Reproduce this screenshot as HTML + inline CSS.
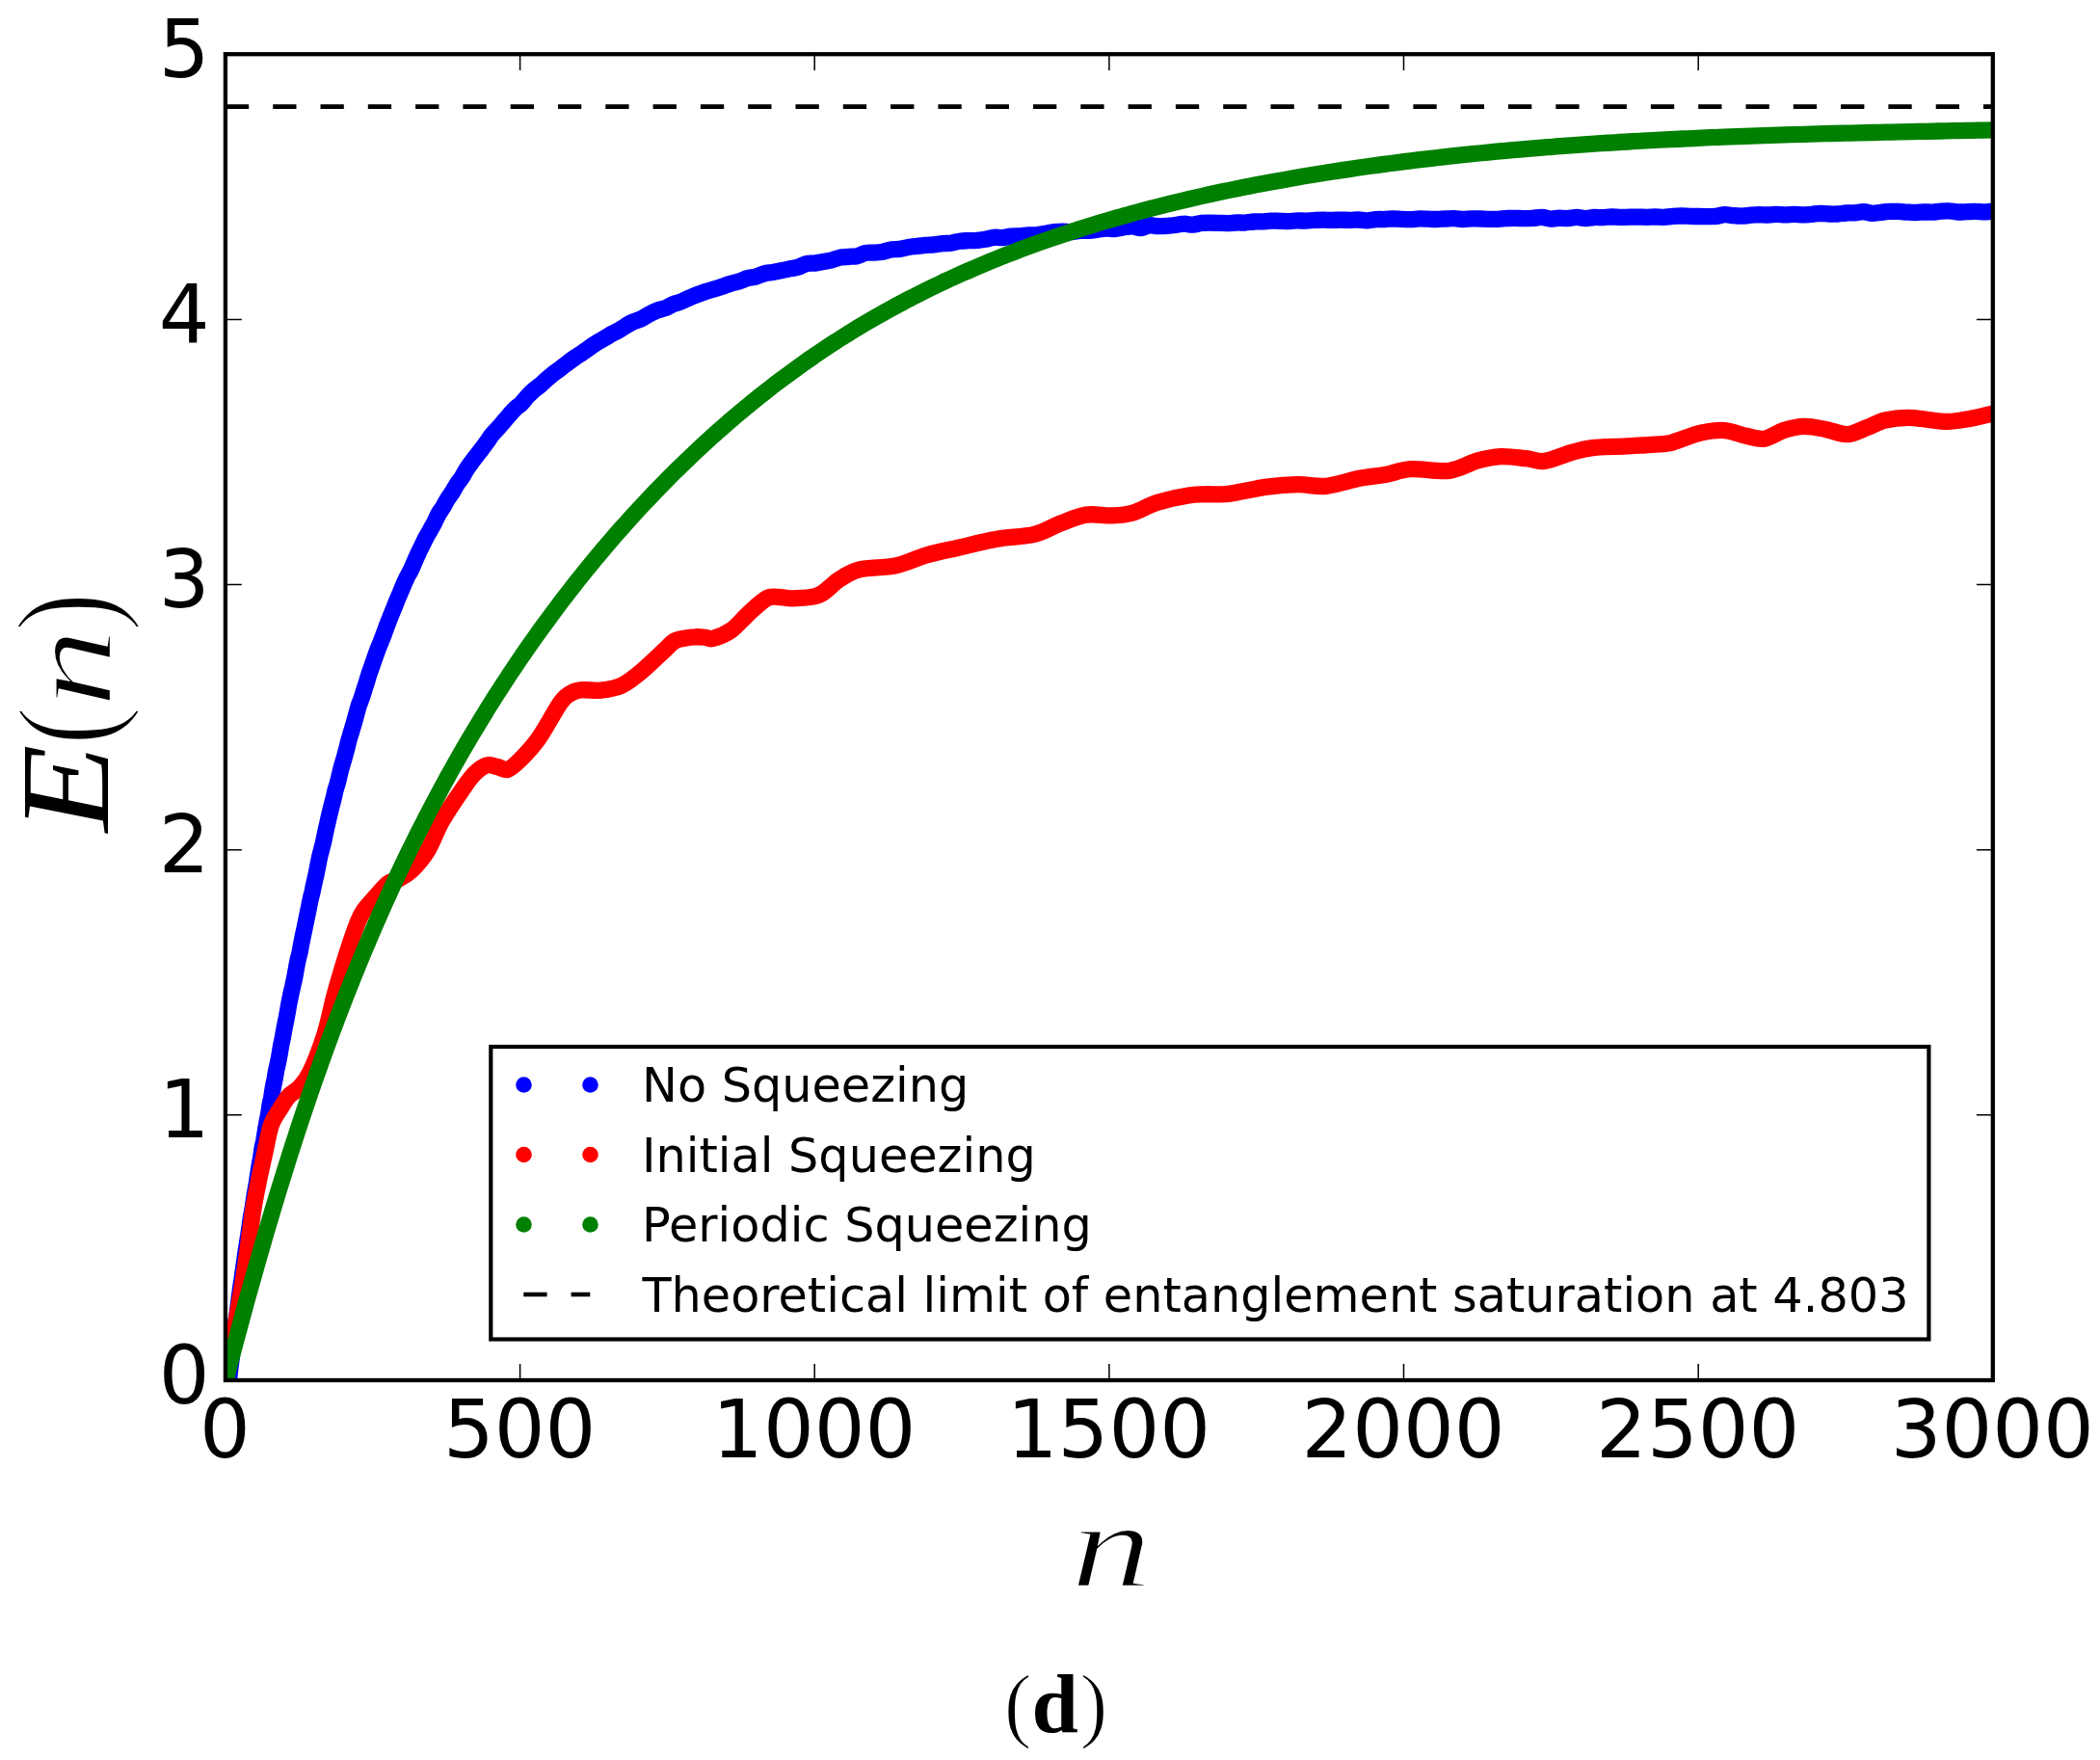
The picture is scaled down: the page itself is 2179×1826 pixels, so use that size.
<!DOCTYPE html>
<html lang="en"><head><meta charset="utf-8"><title>Entanglement E(n) vs n</title>
<style>html,body{margin:0;padding:0;background:#fff}svg{display:block}.t{font-family:"DejaVu Sans","Liberation Sans",sans-serif;fill:#000}.m{font-family:"Liberation Serif","DejaVu Serif",serif;fill:#000}</style></head><body>
<svg width="2179" height="1826" viewBox="0 0 2179 1826">
<rect width="2179" height="1826" fill="#fff"/>
<defs><clipPath id="ax"><rect x="233.9" y="56.2" width="1833.9" height="1375.8"/></clipPath></defs>
<g clip-path="url(#ax)" fill="none" stroke-width="17.3" stroke-linecap="round" stroke-linejoin="round">
<path stroke="#0000ff" d="M234.0 1431.9C234.6 1431.9 236.9 1431.9 237.5 1431.9C238.1 1431.9 237.3 1433.4 237.5 1431.9C237.7 1430.4 238.2 1425.8 238.5 1422.8C238.9 1419.9 239.2 1417.1 239.6 1414.3C239.9 1411.4 240.3 1408.7 240.6 1405.6C241.0 1402.6 241.4 1399.1 241.7 1396.1C242.1 1393.2 242.5 1390.6 242.8 1387.7C243.2 1384.9 243.6 1382.0 244.0 1378.9C244.3 1375.8 244.7 1371.9 245.1 1369.1C245.5 1366.2 245.9 1364.5 246.3 1361.7C246.7 1359.0 247.1 1355.7 247.5 1352.6C247.9 1349.5 248.3 1346.1 248.7 1343.1C249.1 1340.0 249.5 1337.3 249.9 1334.4C250.3 1331.6 250.8 1328.9 251.2 1325.9C251.6 1322.9 252.0 1319.6 252.5 1316.6C252.9 1313.6 253.3 1310.8 253.8 1307.7C254.2 1304.6 254.6 1301.0 255.1 1298.1C255.5 1295.2 256.0 1293.2 256.4 1290.3C256.8 1287.5 257.3 1284.2 257.8 1281.2C258.2 1278.2 258.7 1275.5 259.1 1272.3C259.6 1269.2 260.0 1265.3 260.5 1262.4C261.0 1259.6 261.4 1258.1 261.9 1255.3C262.4 1252.4 262.9 1248.7 263.3 1245.5C263.8 1242.4 264.3 1239.1 264.8 1236.3C265.3 1233.5 265.7 1231.6 266.2 1228.7C266.7 1225.8 267.2 1221.9 267.7 1218.6C268.2 1215.3 268.7 1211.9 269.2 1208.9C269.7 1205.9 270.2 1203.6 270.7 1200.6C271.2 1197.5 271.7 1193.4 272.2 1190.6C272.7 1187.8 273.2 1186.3 273.8 1183.5C274.3 1180.7 274.8 1176.9 275.3 1173.8C275.8 1170.6 276.4 1167.5 276.9 1164.7C277.4 1161.8 277.9 1159.8 278.5 1156.7C279.0 1153.7 279.5 1149.3 280.1 1146.3C280.6 1143.3 281.1 1141.6 281.7 1138.6C282.2 1135.5 282.8 1131.3 283.3 1128.2C283.9 1125.1 284.4 1122.9 285.0 1120.0C285.5 1117.1 286.1 1113.6 286.6 1110.8C287.2 1108.0 287.7 1106.1 288.3 1103.4C288.8 1100.7 289.4 1097.7 290.0 1094.6C290.5 1091.5 291.1 1087.6 291.7 1084.5C292.2 1081.5 292.8 1079.2 293.4 1076.3C293.9 1073.3 294.5 1069.8 295.1 1066.8C295.7 1063.8 296.2 1061.3 296.8 1058.3C297.4 1055.3 298.0 1051.8 298.6 1048.7C299.1 1045.5 299.7 1042.3 300.3 1039.2C300.9 1036.2 301.5 1033.1 302.1 1030.3C302.7 1027.5 303.3 1025.2 303.9 1022.6C304.4 1020.0 305.0 1017.7 305.6 1014.7C306.2 1011.8 306.8 1008.0 307.4 1004.8C308.0 1001.6 308.6 998.3 309.2 995.5C309.9 992.7 310.5 990.8 311.1 987.9C311.7 985.0 312.3 981.3 312.9 978.1C313.5 975.0 314.1 972.2 314.7 969.2C315.3 966.3 316.0 963.4 316.6 960.4C317.2 957.5 317.8 954.4 318.4 951.4C319.1 948.4 319.7 945.5 320.3 942.5C320.9 939.4 321.5 935.9 322.2 933.0C322.8 930.1 323.4 928.1 324.1 925.3C324.7 922.4 325.3 919.0 326.0 916.1C326.6 913.2 327.2 911.0 327.9 908.0C328.5 905.1 329.2 901.6 329.8 898.4C330.4 895.2 331.1 891.6 331.7 888.7C332.4 885.8 333.1 883.6 333.7 881.0C334.4 878.4 335.0 876.1 335.7 873.2C336.4 870.2 337.0 866.4 337.7 863.3C338.4 860.1 339.1 857.2 339.8 854.3C340.4 851.3 341.1 848.3 341.8 845.4C342.5 842.4 343.2 839.5 343.9 836.7C344.6 833.9 345.3 831.3 346.1 828.4C346.8 825.5 347.5 822.0 348.2 819.2C349.0 816.5 349.7 814.8 350.4 812.0C351.2 809.2 351.9 805.4 352.7 802.4C353.4 799.3 354.2 796.6 354.9 793.9C355.7 791.2 356.5 788.7 357.3 786.0C358.0 783.2 358.8 780.4 359.6 777.4C360.4 774.4 361.2 770.8 362.0 767.8C362.8 764.8 363.7 762.3 364.5 759.5C365.3 756.7 366.1 754.0 367.0 751.1C367.8 748.2 368.7 745.1 369.5 742.0C370.4 738.9 371.3 735.4 372.1 732.6C373.0 729.8 373.9 728.0 374.8 725.4C375.7 722.8 376.6 719.8 377.5 717.0C378.4 714.1 379.3 711.2 380.3 708.2C381.2 705.2 382.2 701.8 383.1 698.9C384.1 696.0 385.0 693.6 386.0 690.8C387.0 688.0 388.0 685.0 389.0 682.1C390.0 679.3 391.0 676.5 392.0 673.8C393.0 671.2 394.0 668.9 395.1 666.3C396.1 663.6 397.2 660.8 398.3 658.0C399.3 655.1 400.4 652.0 401.5 649.1C402.6 646.2 403.7 643.4 404.8 640.6C405.9 637.9 407.0 635.2 408.2 632.3C409.3 629.5 410.5 626.5 411.6 623.6C412.8 620.8 414.0 618.1 415.2 615.2C416.4 612.4 417.6 609.4 418.8 606.6C420.0 603.8 421.3 601.1 422.5 598.6C423.7 596.1 425.0 594.3 426.3 591.6C427.6 589.0 428.9 585.6 430.2 582.6C431.5 579.7 432.8 576.6 434.1 573.8C435.5 570.9 436.8 568.3 438.2 565.5C439.5 562.8 440.9 559.8 442.3 557.2C443.7 554.6 445.1 552.4 446.5 549.8C448.0 547.2 449.4 544.6 450.9 541.8C452.3 539.0 453.8 535.5 455.3 532.8C456.8 530.2 458.3 528.6 459.8 526.0C461.4 523.5 462.9 520.1 464.5 517.6C466.0 515.1 467.6 513.5 469.2 510.9C470.8 508.4 472.4 505.1 474.0 502.6C475.6 500.1 477.3 498.4 479.0 495.8C480.6 493.3 482.3 489.8 484.0 487.1C485.7 484.5 487.4 482.2 489.2 479.8C490.9 477.4 492.7 475.1 494.4 472.8C496.2 470.5 498.0 468.3 499.8 466.0C501.6 463.6 503.4 461.1 505.3 458.6C507.1 456.0 509.0 452.9 510.9 450.6C512.8 448.2 514.7 446.6 516.6 444.4C518.6 442.3 520.5 439.9 522.5 437.6C524.5 435.3 526.4 432.9 528.4 430.7C530.5 428.4 532.5 425.9 534.5 424.0C536.6 422.0 538.7 421.0 540.8 418.9C542.9 416.8 545.0 413.8 547.1 411.4C549.2 409.1 551.4 407.0 553.6 405.1C555.8 403.1 558.0 401.8 560.2 399.9C562.4 398.0 564.6 395.7 566.9 393.8C569.2 391.8 571.5 389.8 573.8 388.0C576.1 386.1 578.4 384.7 580.8 382.9C583.1 381.1 585.5 379.1 587.9 377.3C590.3 375.5 592.7 373.7 595.2 372.0C597.6 370.3 600.0 368.9 602.5 367.2C605.0 365.6 607.5 363.7 610.0 361.9C612.5 360.1 615.0 358.2 617.6 356.6C620.1 355.0 622.7 353.6 625.2 352.1C627.8 350.5 630.4 348.9 633.0 347.4C635.6 346.0 638.2 344.9 640.9 343.4C643.5 342.0 646.2 340.1 648.8 338.5C651.5 336.9 654.2 335.2 656.9 333.9C659.6 332.7 662.3 332.2 665.0 331.0C667.7 329.7 670.5 327.8 673.2 326.3C675.9 324.8 678.7 323.3 681.5 322.2C684.2 321.1 687.0 320.9 689.8 319.8C692.6 318.8 695.4 316.9 698.2 315.7C701.0 314.6 703.8 314.1 706.6 313.0C709.4 311.9 712.3 310.4 715.1 309.1C717.9 307.9 720.8 306.7 723.6 305.6C726.5 304.5 729.3 303.5 732.2 302.5C735.1 301.6 737.9 300.9 740.8 300.0C743.7 299.1 746.6 298.2 749.5 297.3C752.3 296.3 755.2 295.1 758.1 294.2C761.0 293.3 763.9 292.8 766.8 291.9C769.7 291.0 772.6 289.5 775.5 288.7C778.4 287.9 781.3 287.9 784.2 287.1C787.2 286.3 790.1 284.6 793.0 283.8C795.9 283.0 798.8 282.9 801.7 282.4C804.6 281.9 807.5 281.4 810.5 280.8C813.4 280.2 816.3 279.5 819.2 278.9C822.1 278.3 825.0 278.2 828.0 277.3C830.9 276.4 833.8 274.3 836.7 273.6C839.7 272.9 842.6 273.4 845.5 273.1C848.4 272.7 851.4 272.1 854.3 271.6C857.2 271.0 860.2 270.5 863.1 269.8C866.0 269.0 869.0 267.7 871.9 267.1C874.8 266.6 877.8 266.6 880.7 266.3C883.6 266.1 886.6 266.3 889.5 265.7C892.4 265.0 895.4 263.0 898.3 262.4C901.3 261.8 904.2 262.3 907.1 262.1C910.1 261.9 913.0 261.7 916.0 261.2C918.9 260.6 921.9 259.4 924.8 258.9C927.8 258.5 930.7 258.9 933.7 258.4C936.6 258.0 939.6 256.9 942.5 256.4C945.5 255.9 948.4 255.7 951.4 255.4C954.3 255.0 957.3 254.6 960.2 254.3C963.2 254.0 966.2 254.1 969.1 253.8C972.1 253.5 975.0 252.9 978.0 252.6C980.9 252.4 983.9 252.6 986.9 252.2C989.8 251.8 992.8 250.6 995.8 250.2C998.7 249.8 1001.7 249.8 1004.7 249.7C1007.6 249.6 1010.6 249.6 1013.6 249.4C1016.5 249.1 1019.5 248.8 1022.5 248.3C1025.4 247.8 1028.4 246.6 1031.4 246.3C1034.3 246.1 1037.3 246.8 1040.3 246.6C1043.3 246.4 1046.2 245.4 1049.2 245.1C1052.2 244.8 1055.2 245.0 1058.1 244.8C1061.1 244.6 1064.1 244.1 1067.1 243.9C1070.1 243.8 1073.0 243.9 1076.0 243.7C1079.0 243.4 1082.0 242.9 1085.0 242.3C1087.9 241.8 1090.9 240.9 1093.9 240.5C1096.9 240.1 1099.9 240.1 1102.9 240.1C1105.8 240.1 1108.8 240.7 1111.8 240.5C1114.8 240.4 1117.8 239.5 1120.8 239.3C1123.8 239.1 1126.7 239.6 1129.7 239.4C1132.7 239.3 1135.7 238.7 1138.7 238.3C1141.7 238.0 1144.7 237.3 1147.7 237.2C1150.7 237.0 1153.7 237.8 1156.7 237.6C1159.7 237.4 1162.6 236.5 1165.6 236.0C1168.6 235.5 1171.6 234.7 1174.6 234.8C1177.6 234.8 1180.6 236.6 1183.6 236.5C1186.6 236.3 1189.6 234.1 1192.6 233.8C1195.6 233.5 1198.6 234.6 1201.6 234.7C1204.6 234.8 1207.6 234.6 1210.6 234.4C1213.6 234.2 1216.6 233.9 1219.6 233.5C1222.6 233.1 1225.6 232.1 1228.6 232.1C1231.6 232.0 1234.6 233.3 1237.6 233.2C1240.6 233.0 1243.6 231.8 1246.7 231.4C1249.7 231.1 1252.7 231.1 1255.7 231.1C1258.7 231.1 1261.7 231.2 1264.7 231.3C1267.7 231.4 1270.7 231.6 1273.7 231.6C1276.7 231.5 1279.7 231.1 1282.7 231.0C1285.7 230.9 1288.8 231.1 1291.8 231.0C1294.8 230.8 1297.8 230.2 1300.8 230.0C1303.8 229.8 1306.8 230.0 1309.8 229.9C1312.8 229.7 1315.9 229.2 1318.9 229.1C1321.9 229.0 1324.9 229.2 1327.9 229.3C1330.9 229.4 1333.9 229.6 1337.0 229.6C1340.0 229.5 1343.0 229.0 1346.0 228.9C1349.0 228.8 1352.0 229.2 1355.0 229.1C1358.1 229.0 1361.1 228.5 1364.1 228.4C1367.1 228.2 1370.1 228.2 1373.1 228.2C1376.2 228.2 1379.2 228.4 1382.2 228.4C1385.2 228.4 1388.2 228.1 1391.2 228.1C1394.3 228.1 1397.3 228.4 1400.3 228.4C1403.3 228.4 1406.3 228.0 1409.3 228.0C1412.4 228.1 1415.4 228.9 1418.4 228.8C1421.4 228.7 1424.4 227.8 1427.5 227.6C1430.5 227.4 1433.5 227.6 1436.5 227.5C1439.5 227.4 1442.6 227.0 1445.6 226.9C1448.6 226.9 1451.6 227.3 1454.6 227.4C1457.7 227.6 1460.7 227.8 1463.7 227.7C1466.7 227.6 1469.7 227.0 1472.8 226.9C1475.8 226.8 1478.8 227.1 1481.8 227.2C1484.8 227.3 1487.9 227.6 1490.9 227.5C1493.9 227.5 1496.9 227.1 1500.0 227.0C1503.0 226.9 1506.0 226.6 1509.0 226.7C1512.0 226.8 1515.1 227.4 1518.1 227.5C1521.1 227.5 1524.1 227.0 1527.2 226.9C1530.2 226.9 1533.2 227.0 1536.2 227.0C1539.2 227.1 1542.3 227.4 1545.3 227.4C1548.3 227.5 1551.3 227.5 1554.3 227.3C1557.4 227.2 1560.4 226.6 1563.4 226.5C1566.4 226.3 1569.5 226.3 1572.5 226.3C1575.5 226.3 1578.5 226.7 1581.5 226.7C1584.6 226.7 1587.6 226.6 1590.6 226.4C1593.6 226.2 1596.6 225.2 1599.7 225.3C1602.7 225.4 1605.7 226.9 1608.7 227.0C1611.7 227.2 1614.8 226.3 1617.8 226.2C1620.8 226.2 1623.8 226.7 1626.8 226.5C1629.9 226.4 1632.9 225.4 1635.9 225.4C1638.9 225.4 1641.9 226.6 1645.0 226.6C1648.0 226.7 1651.0 225.7 1654.0 225.5C1657.0 225.3 1660.1 225.8 1663.1 225.7C1666.1 225.5 1669.1 224.9 1672.1 224.8C1675.2 224.8 1678.2 225.3 1681.2 225.4C1684.2 225.5 1687.2 225.3 1690.2 225.2C1693.3 225.2 1696.3 225.1 1699.3 225.1C1702.3 225.1 1705.3 225.3 1708.3 225.3C1711.4 225.3 1714.4 225.0 1717.4 225.0C1720.4 225.0 1723.4 225.4 1726.4 225.3C1729.4 225.2 1732.5 224.6 1735.5 224.4C1738.5 224.2 1741.5 224.0 1744.5 223.9C1747.5 223.9 1750.5 224.2 1753.5 224.3C1756.6 224.4 1759.6 224.5 1762.6 224.5C1765.6 224.6 1768.6 224.7 1771.6 224.7C1774.6 224.7 1777.6 224.6 1780.6 224.3C1783.7 224.0 1786.7 222.8 1789.7 222.7C1792.7 222.6 1795.7 223.5 1798.7 223.7C1801.7 224.0 1804.7 224.2 1807.7 224.2C1810.7 224.1 1813.7 223.5 1816.7 223.2C1819.7 223.0 1822.7 222.8 1825.8 222.7C1828.8 222.7 1831.8 223.1 1834.8 223.0C1837.8 223.0 1840.8 222.4 1843.8 222.4C1846.8 222.4 1849.8 222.9 1852.8 222.8C1855.8 222.8 1858.8 222.3 1861.8 222.3C1864.8 222.3 1867.8 222.9 1870.8 222.9C1873.8 222.9 1876.8 222.5 1879.8 222.3C1882.8 222.0 1885.8 221.5 1888.8 221.4C1891.8 221.4 1894.8 221.9 1897.8 222.0C1900.8 222.1 1903.8 222.2 1906.7 222.0C1909.7 221.8 1912.7 221.2 1915.7 221.0C1918.7 220.8 1921.7 221.1 1924.7 220.9C1927.7 220.7 1930.7 219.7 1933.7 219.7C1936.7 219.8 1939.7 221.2 1942.6 221.3C1945.6 221.4 1948.6 220.7 1951.6 220.4C1954.6 220.0 1957.6 219.5 1960.6 219.4C1963.6 219.2 1966.5 219.3 1969.5 219.4C1972.5 219.5 1975.5 219.9 1978.5 220.1C1981.5 220.3 1984.4 220.6 1987.4 220.5C1990.4 220.5 1993.4 220.0 1996.4 219.9C1999.3 219.9 2002.3 220.2 2005.3 220.1C2008.3 220.0 2011.2 219.3 2014.2 219.1C2017.2 218.9 2020.2 218.7 2023.1 218.9C2026.1 219.0 2029.1 219.8 2032.1 220.0C2035.0 220.1 2038.0 219.8 2041.0 219.7C2044.0 219.5 2046.9 219.2 2049.9 219.3C2052.9 219.3 2055.8 219.9 2058.8 219.9C2061.8 219.9 2066.2 219.2 2067.7 219.1"/>
<path stroke="#ff0000" d="M234.0 1431.9C237.1 1414.5 247.6 1358.0 252.5 1327.7C257.4 1297.4 259.9 1272.1 263.6 1250.0C267.4 1227.9 272.0 1208.8 275.0 1195.0C278.0 1181.2 278.8 1174.4 281.5 1166.9C284.2 1159.4 288.0 1154.9 291.0 1150.0C294.0 1145.1 296.1 1141.1 299.4 1137.4C302.7 1133.7 307.2 1132.2 311.0 1128.0C314.8 1123.8 317.6 1121.3 322.0 1112.0C326.4 1102.7 332.9 1085.9 337.2 1072.3C341.5 1058.7 343.8 1044.2 347.7 1030.2C351.6 1016.2 356.4 1000.5 360.3 988.2C364.2 975.9 368.4 964.0 371.3 956.6C374.2 949.2 375.1 948.2 378.0 944.0C380.9 939.8 384.6 935.9 388.7 931.4C392.8 926.9 398.4 919.9 402.4 916.7C406.4 913.6 408.6 915.0 412.9 912.5C417.2 910.0 422.8 907.1 428.0 902.0C433.2 896.9 438.9 890.4 444.0 882.0C449.1 873.6 452.8 861.8 458.7 851.5C464.6 841.2 473.6 828.1 479.2 820.0C484.8 811.9 487.7 807.3 492.0 803.0C496.3 798.7 501.1 795.2 505.1 794.0C509.1 792.8 512.4 794.8 516.0 795.5C519.6 796.2 522.7 799.6 526.7 798.4C530.7 797.1 534.6 793.4 540.0 788.0C545.4 782.6 552.2 775.6 559.0 766.0C565.8 756.4 575.4 738.1 580.7 730.4C586.0 722.7 587.4 722.4 591.0 720.0C594.6 717.6 596.8 716.5 602.3 715.9C607.8 715.2 616.6 716.9 623.8 716.1C631.0 715.3 638.2 714.5 645.4 711.0C652.6 707.5 659.8 701.4 667.0 695.4C674.2 689.4 683.1 680.4 688.6 675.3C694.1 670.2 696.4 667.2 700.0 665.0C703.6 662.8 706.7 662.9 710.2 662.2C713.8 661.5 717.7 660.9 721.3 660.8C724.9 660.6 728.7 661.0 731.8 661.3C734.9 661.6 735.5 663.6 740.0 662.4C744.5 661.2 752.5 658.3 758.7 653.9C764.9 649.5 771.1 641.6 777.3 636.0C783.5 630.4 790.9 623.2 796.0 620.5C801.1 617.8 803.5 619.5 808.0 619.5C812.5 619.5 815.8 621.1 822.7 620.8C829.6 620.5 841.3 620.9 849.3 617.6C857.3 614.4 863.6 605.8 870.7 601.3C877.8 596.8 882.2 593.3 892.0 590.9C901.8 588.5 917.8 589.4 929.3 586.9C940.8 584.4 950.6 579.1 961.3 576.0C972.0 572.9 981.3 571.2 993.3 568.5C1005.3 565.8 1020.0 561.9 1033.3 559.5C1046.6 557.1 1062.2 557.1 1073.3 554.4C1084.4 551.7 1091.1 546.6 1100.0 543.2C1108.9 539.8 1117.8 535.5 1126.7 534.1C1135.6 532.7 1145.3 535.2 1153.3 534.9C1161.3 534.6 1166.7 534.6 1174.7 532.3C1182.7 530.0 1191.5 524.3 1201.3 521.3C1211.1 518.3 1225.2 515.5 1233.3 514.1C1241.4 512.7 1243.1 513.1 1250.0 512.8C1256.9 512.5 1263.9 513.6 1274.7 512.3C1285.5 511.0 1302.7 506.7 1314.7 505.1C1326.7 503.5 1336.5 502.8 1346.7 502.7C1356.9 502.6 1365.3 505.4 1376.0 504.3C1386.7 503.2 1400.5 498.3 1410.7 496.3C1420.9 494.3 1428.4 494.1 1437.3 492.5C1446.2 490.9 1452.9 487.4 1464.0 486.7C1475.1 486.0 1492.5 489.8 1504.0 488.3C1515.5 486.8 1524.4 480.3 1533.3 477.9C1542.2 475.4 1548.8 474.0 1557.3 473.6C1565.8 473.2 1576.4 474.9 1584.0 475.7C1591.6 476.5 1595.2 479.4 1602.7 478.4C1610.2 477.4 1621.3 472.2 1629.3 469.9C1637.3 467.6 1640.9 466.0 1650.7 464.8C1660.5 463.6 1675.1 463.6 1688.0 462.9C1700.9 462.1 1719.3 461.2 1728.0 460.3C1736.7 459.4 1733.7 459.3 1740.0 457.4C1746.3 455.5 1757.4 450.7 1765.7 448.9C1774.0 447.1 1782.0 446.0 1789.7 446.6C1797.4 447.2 1805.1 450.9 1812.0 452.3C1818.9 453.7 1824.3 456.2 1830.9 455.2C1837.5 454.2 1844.6 448.4 1851.4 446.3C1858.2 444.2 1864.8 442.5 1872.0 442.3C1879.2 442.1 1886.9 444.0 1894.3 445.4C1901.7 446.8 1909.5 451.0 1916.6 450.7C1923.7 450.4 1930.5 446.1 1937.1 443.7C1943.7 441.2 1948.8 437.7 1956.0 436.0C1963.2 434.3 1972.6 433.4 1980.0 433.3C1987.4 433.2 1993.8 434.8 2000.6 435.5C2007.4 436.2 2013.7 437.6 2021.1 437.4C2028.5 437.2 2037.3 435.7 2045.1 434.3C2052.9 432.9 2063.9 430.0 2067.7 429.1"/>
<path stroke="#008000" d="M234.0 1431.9C234.6 1429.6 236.4 1422.8 237.5 1418.3C238.7 1413.8 239.9 1409.3 241.1 1404.7C242.3 1400.2 243.5 1395.7 244.7 1391.1C245.9 1386.6 247.1 1382.1 248.4 1377.6C249.6 1373.0 250.8 1368.5 252.0 1364.0C253.3 1359.5 254.5 1355.0 255.7 1350.4C257.0 1345.9 258.2 1341.4 259.5 1336.9C260.8 1332.4 262.0 1327.8 263.3 1323.3C264.6 1318.8 265.8 1314.3 267.1 1309.8C268.4 1305.3 269.7 1300.8 271.0 1296.3C272.3 1291.8 273.6 1287.3 274.9 1282.8C276.2 1278.3 277.6 1273.8 278.9 1269.3C280.2 1264.8 281.6 1260.3 282.9 1255.8C284.3 1251.3 285.6 1246.8 287.0 1242.3C288.3 1237.8 289.7 1233.3 291.1 1228.9C292.5 1224.4 293.9 1219.9 295.3 1215.4C296.7 1210.9 298.1 1206.5 299.5 1202.0C300.9 1197.5 302.3 1193.1 303.8 1188.6C305.2 1184.2 306.7 1179.7 308.1 1175.2C309.6 1170.8 311.1 1166.3 312.5 1161.9C314.0 1157.4 315.5 1153.0 317.0 1148.6C318.5 1144.1 320.0 1139.7 321.5 1135.3C323.1 1130.8 324.6 1126.4 326.1 1122.0C327.7 1117.6 329.2 1113.1 330.8 1108.7C332.4 1104.3 333.9 1099.9 335.5 1095.5C337.1 1091.1 338.7 1086.7 340.3 1082.3C341.9 1077.9 343.6 1073.5 345.2 1069.1C346.8 1064.8 348.5 1060.4 350.1 1056.0C351.8 1051.6 353.5 1047.3 355.2 1042.9C356.9 1038.5 358.5 1034.2 360.3 1029.8C362.0 1025.5 363.7 1021.1 365.4 1016.8C367.2 1012.5 368.9 1008.1 370.7 1003.8C372.5 999.5 374.2 995.1 376.0 990.8C377.8 986.5 379.6 982.2 381.5 977.9C383.3 973.6 385.1 969.3 387.0 965.0C388.8 960.7 390.7 956.4 392.6 952.2C394.4 947.9 396.3 943.6 398.2 939.4C400.2 935.1 402.1 930.8 404.0 926.6C406.0 922.3 407.9 918.1 409.9 913.9C411.9 909.6 413.8 905.4 415.8 901.2C417.8 897.0 419.9 892.8 421.9 888.5C423.9 884.3 426.0 880.1 428.1 876.0C430.1 871.8 432.2 867.6 434.3 863.4C436.4 859.2 438.5 855.1 440.7 850.9C442.8 846.8 444.9 842.6 447.1 838.5C449.3 834.3 451.5 830.2 453.7 826.1C455.9 822.0 458.1 817.8 460.3 813.7C462.6 809.6 464.8 805.5 467.1 801.4C469.4 797.4 471.6 793.3 474.0 789.2C476.3 785.1 478.6 781.1 480.9 777.0C483.3 773.0 485.7 768.9 488.0 764.9C490.4 760.9 492.8 756.8 495.3 752.8C497.7 748.8 500.1 744.8 502.6 740.8C505.0 736.8 507.5 732.8 510.0 728.9C512.5 724.9 515.0 720.9 517.6 717.0C520.1 713.0 522.7 709.1 525.3 705.1C527.8 701.2 530.4 697.3 533.1 693.4C535.7 689.5 538.3 685.6 541.0 681.7C543.6 677.8 546.3 673.9 549.0 670.0C551.7 666.2 554.5 662.3 557.2 658.5C559.9 654.6 562.7 650.8 565.5 647.0C568.3 643.2 571.1 639.4 573.9 635.6C576.7 631.8 579.6 628.0 582.4 624.2C585.3 620.5 588.2 616.7 591.1 613.0C594.0 609.3 596.9 605.5 599.8 601.8C602.8 598.1 605.7 594.4 608.7 590.8C611.7 587.1 614.7 583.5 617.7 579.8C620.7 576.2 623.8 572.5 626.8 568.9C629.9 565.3 632.9 561.7 636.0 558.2C639.1 554.6 642.3 551.1 645.4 547.5C648.5 544.0 651.7 540.5 654.8 537.0C658.0 533.5 661.2 530.0 664.4 526.5C667.6 523.1 670.9 519.6 674.1 516.2C677.4 512.8 680.6 509.4 683.9 506.0C687.2 502.6 690.5 499.3 693.8 495.9C697.1 492.6 700.5 489.3 703.8 486.0C707.2 482.7 710.6 479.4 714.0 476.2C717.4 472.9 720.8 469.7 724.2 466.5C727.7 463.3 731.1 460.1 734.6 456.9C738.1 453.8 741.5 450.6 745.0 447.5C748.6 444.4 752.1 441.3 755.6 438.2C759.2 435.2 762.7 432.1 766.3 429.1C769.9 426.1 773.5 423.1 777.1 420.2C780.7 417.2 784.3 414.3 788.0 411.3C791.6 408.4 795.3 405.6 799.0 402.7C802.7 399.8 806.4 397.0 810.1 394.2C813.8 391.4 817.6 388.6 821.3 385.9C825.1 383.1 828.9 380.4 832.6 377.7C836.4 375.0 840.2 372.3 844.1 369.7C847.9 367.1 851.7 364.5 855.6 361.9C859.5 359.3 863.3 356.8 867.2 354.3C871.1 351.7 875.0 349.3 879.0 346.8C882.9 344.4 886.8 341.9 890.8 339.5C894.8 337.1 898.7 334.8 902.7 332.5C906.7 330.1 910.8 327.8 914.8 325.6C918.8 323.3 922.9 321.0 926.9 318.8C931.0 316.6 935.1 314.5 939.1 312.3C943.2 310.2 947.3 308.0 951.5 305.9C955.6 303.9 959.7 301.8 963.9 299.8C968.0 297.7 972.2 295.7 976.4 293.7C980.6 291.8 984.7 289.8 989.0 287.9C993.2 286.0 997.4 284.1 1001.6 282.2C1005.9 280.4 1010.1 278.5 1014.4 276.7C1018.6 274.9 1022.9 273.1 1027.2 271.3C1031.5 269.6 1035.8 267.8 1040.1 266.1C1044.4 264.4 1048.7 262.7 1053.1 261.1C1057.4 259.4 1061.7 257.8 1066.1 256.2C1070.4 254.6 1074.8 253.0 1079.2 251.4C1083.6 249.9 1088.0 248.3 1092.4 246.8C1096.8 245.3 1101.2 243.8 1105.6 242.4C1110.0 240.9 1114.5 239.5 1118.9 238.0C1123.3 236.6 1127.8 235.2 1132.3 233.9C1136.7 232.5 1141.2 231.1 1145.7 229.8C1150.2 228.5 1154.6 227.2 1159.1 225.9C1163.6 224.6 1168.1 223.3 1172.7 222.1C1177.2 220.8 1181.7 219.6 1186.2 218.4C1190.7 217.2 1195.3 216.0 1199.8 214.9C1204.4 213.7 1208.9 212.6 1213.5 211.4C1218.0 210.3 1222.6 209.2 1227.2 208.1C1231.8 207.0 1236.3 206.0 1240.9 204.9C1245.5 203.9 1250.1 202.8 1254.7 201.8C1259.3 200.8 1263.9 199.8 1268.5 198.8C1273.1 197.9 1277.7 196.9 1282.3 196.0C1287.0 195.0 1291.6 194.1 1296.2 193.2C1300.8 192.3 1305.5 191.4 1310.1 190.5C1314.7 189.6 1319.4 188.8 1324.0 187.9C1328.7 187.1 1333.3 186.3 1338.0 185.4C1342.6 184.6 1347.3 183.8 1351.9 183.0C1356.6 182.3 1361.3 181.5 1365.9 180.7C1370.6 180.0 1375.3 179.2 1379.9 178.5C1384.6 177.8 1389.3 177.1 1393.9 176.4C1398.6 175.7 1403.3 175.0 1408.0 174.3C1412.6 173.6 1417.3 173.0 1422.0 172.3C1426.7 171.7 1431.3 171.0 1436.0 170.4C1440.7 169.8 1445.4 169.2 1450.1 168.6C1454.8 168.0 1459.4 167.4 1464.1 166.8C1468.8 166.2 1473.5 165.7 1478.2 165.1C1482.9 164.6 1487.6 164.0 1492.3 163.5C1497.0 162.9 1501.7 162.4 1506.4 161.9C1511.0 161.4 1515.7 160.9 1520.4 160.4C1525.1 159.9 1529.8 159.5 1534.5 159.0C1539.2 158.5 1543.9 158.1 1548.6 157.6C1553.3 157.2 1558.0 156.7 1562.7 156.3C1567.4 155.9 1572.1 155.5 1576.8 155.1C1581.5 154.7 1586.2 154.3 1590.9 153.9C1595.6 153.5 1600.3 153.1 1605.0 152.7C1609.7 152.4 1614.4 152.0 1619.1 151.6C1623.8 151.3 1628.5 150.9 1633.2 150.6C1638.0 150.3 1642.7 149.9 1647.4 149.6C1652.1 149.3 1656.8 149.0 1661.5 148.7C1666.2 148.4 1670.9 148.1 1675.6 147.8C1680.3 147.5 1685.0 147.2 1689.7 147.0C1694.4 146.7 1699.1 146.4 1703.8 146.2C1708.5 145.9 1713.2 145.6 1717.9 145.4C1722.6 145.1 1727.3 144.9 1732.0 144.7C1736.7 144.4 1741.4 144.2 1746.1 144.0C1750.8 143.8 1755.5 143.6 1760.2 143.3C1764.9 143.1 1769.6 142.9 1774.2 142.7C1778.9 142.5 1783.6 142.3 1788.3 142.2C1793.0 142.0 1797.7 141.8 1802.4 141.6C1807.1 141.4 1811.8 141.3 1816.5 141.1C1821.1 140.9 1825.8 140.8 1830.5 140.6C1835.2 140.4 1839.9 140.3 1844.6 140.1C1849.2 140.0 1853.9 139.8 1858.6 139.7C1863.3 139.6 1868.0 139.4 1872.6 139.3C1877.3 139.1 1882.0 139.0 1886.6 138.9C1891.3 138.8 1896.0 138.6 1900.7 138.5C1905.3 138.4 1910.0 138.3 1914.7 138.2C1919.3 138.0 1924.0 137.9 1928.6 137.8C1933.3 137.7 1938.0 137.6 1942.6 137.5C1947.3 137.4 1951.9 137.3 1956.6 137.2C1961.2 137.1 1965.9 137.0 1970.5 136.9C1975.2 136.8 1979.8 136.7 1984.4 136.6C1989.1 136.5 1993.7 136.4 1998.4 136.3C2003.0 136.2 2007.6 136.1 2012.3 136.0C2016.9 135.9 2021.5 135.8 2026.1 135.7C2030.8 135.6 2035.4 135.5 2040.0 135.4C2044.6 135.4 2049.2 135.3 2053.9 135.2C2058.5 135.1 2065.4 134.9 2067.7 134.9"/>
</g>
<line x1="233.9" y1="110.55" x2="2067.8" y2="110.55" stroke="#000" stroke-width="4.7" stroke-dasharray="24.3 25"/>
<path d="M539.6 1432.0v-16.9M539.6 56.2v16.9M845.2 1432.0v-16.9M845.2 56.2v16.9M1150.9 1432.0v-16.9M1150.9 56.2v16.9M1456.5 1432.0v-16.9M1456.5 56.2v16.9M1762.2 1432.0v-16.9M1762.2 56.2v16.9M233.9 1156.8h16.9M2067.8 1156.8h-16.9M233.9 881.7h16.9M2067.8 881.7h-16.9M233.9 606.5h16.9M2067.8 606.5h-16.9M233.9 331.4h16.9M2067.8 331.4h-16.9" stroke="#000" stroke-width="1.5" fill="none"/>
<rect x="233.9" y="56.2" width="1833.9" height="1375.8" fill="none" stroke="#000" stroke-width="4.3"/>
<text class="t" font-size="83" x="233.4" y="1511.5" text-anchor="middle">0</text>
<text class="t" font-size="83" x="539.1" y="1511.5" text-anchor="middle">500</text>
<text class="t" font-size="83" x="844.7" y="1511.5" text-anchor="middle">1000</text>
<text class="t" font-size="83" x="1150.4" y="1511.5" text-anchor="middle">1500</text>
<text class="t" font-size="83" x="1456.0" y="1511.5" text-anchor="middle">2000</text>
<text class="t" font-size="83" x="1761.7" y="1511.5" text-anchor="middle">2500</text>
<text class="t" font-size="83" x="2067.3" y="1511.5" text-anchor="middle">3000</text>
<text class="t" font-size="83" x="217.5" y="1455.5" text-anchor="end">0</text>
<text class="t" font-size="83" x="217.5" y="1180.3" text-anchor="end">1</text>
<text class="t" font-size="83" x="217.5" y="905.2" text-anchor="end">2</text>
<text class="t" font-size="83" x="217.5" y="630.0" text-anchor="end">3</text>
<text class="t" font-size="83" x="217.5" y="354.9" text-anchor="end">4</text>
<text class="t" font-size="83" x="217.5" y="79.7" text-anchor="end">5</text>
<rect x="509.3" y="1086" width="1492.1" height="303.5" fill="#fff" stroke="#000" stroke-width="4.2"/>
<circle cx="543.5" cy="1125.5" r="8.3" fill="#0000ff"/><circle cx="612.5" cy="1125.5" r="8.3" fill="#0000ff"/>
<text class="t" font-size="49.3" x="666" y="1143.4">No Squeezing</text>
<circle cx="543.5" cy="1198.0" r="8.3" fill="#ff0000"/><circle cx="612.5" cy="1198.0" r="8.3" fill="#ff0000"/>
<text class="t" font-size="49.3" x="666" y="1215.8">Initial Squeezing</text>
<circle cx="543.5" cy="1270.5" r="8.3" fill="#008000"/><circle cx="612.5" cy="1270.5" r="8.3" fill="#008000"/>
<text class="t" font-size="49.3" x="666" y="1288.2">Periodic Squeezing</text>
<line x1="543.3" y1="1343" x2="612.3" y2="1343" stroke="#000" stroke-width="4.5" stroke-dasharray="24.3 25"/>
<text class="t" font-size="49.3" x="666.5" y="1360.6">Theoretical limit of entanglement saturation at 4.803</text>
<text class="m" font-size="130" font-style="italic" stroke="#fff" stroke-width="2.4" transform="translate(1110.91,1645.51) scale(1.298,0.969)">n</text>
<g>
<text class="m" font-size="130" font-style="italic" transform="translate(112.1,863.18) rotate(-90) scale(1.144,1.003)">E</text>
<text class="m" font-size="130" stroke="#fff" stroke-width="3" transform="translate(115.69,773.46) rotate(-90) scale(0.945,1.1)">(</text>
<text class="m" font-size="130" font-style="italic" stroke="#fff" stroke-width="2.4" transform="translate(114.8,734.33) rotate(-90) scale(1.271,0.958)">n</text>
<text class="m" font-size="130" stroke="#fff" stroke-width="3" transform="translate(115.69,655.51) rotate(-90) scale(0.959,1.1)">)</text>
</g>
<text class="m" font-size="86.9" y="1797.3"><tspan x="1041.8" stroke="#fff" stroke-width="1.6">(</tspan><tspan x="1070.4" font-weight="bold">d</tspan><tspan x="1120.4" stroke="#fff" stroke-width="1.6">)</tspan></text>
</svg></body></html>
